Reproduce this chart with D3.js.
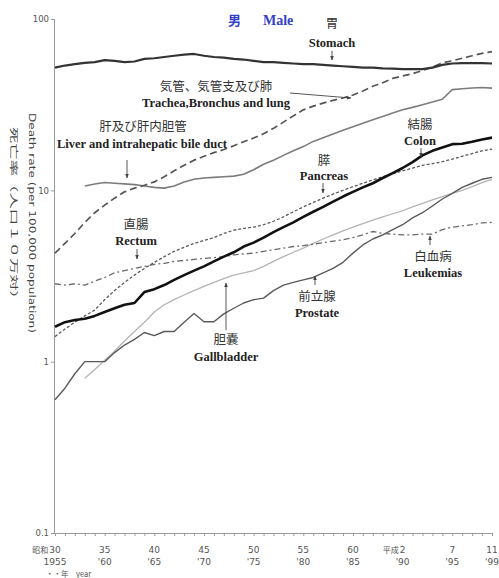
<!DOCTYPE html>
<html>
<head>
<meta charset="utf-8">
<script src="https://cdn.jsdelivr.net/npm/d3@7"></script>
<style>
  body { margin: 0; background: #fff; }
  svg { display: block; }
</style>
</head>
<body>
<svg id="chart" width="499" height="578"></svg>
<script>
// Age-adjusted cancer death rates, males, per 100,000 population (log scale)
const years = [1955,1956,1957,1958,1959,1960,1961,1962,1963,1964,
               1965,1966,1967,1968,1969,1970,1971,1972,1973,1974,
               1975,1976,1977,1978,1979,1980,1981,1982,1983,1984,
               1985,1986,1987,1988,1989,1990,1991,1992,1993,1994,
               1995,1996,1997,1998,1999];

const stomach = [52,53.5,54.5,55.5,56,57.5,57,56,56.5,58.5,
                 59,60,61,62,62.5,61,60,59.5,58.5,58,
                 57,56,56,55.5,55,54.6,54.5,54,53.5,53,
                 52.5,52,52,51.5,51.3,51,51,51,52,54,
                 55,55.3,55.3,55.3,55];

const lung = [4.3,4.9,5.6,6.5,7.4,8.2,9.0,9.8,10.3,10.7,
              11.2,12.0,13.0,14.0,15.0,15.8,16.6,17.3,18.2,19.2,
              20.2,21.4,23.0,25.0,27.2,29.5,31.0,32.3,33.5,34.6,
              36.0,38.0,40.5,42.5,45.0,46.5,48.0,50.0,52.5,55.5,
              57.0,59.0,61.0,63.0,64.5];

const liver = [null,null,null,10.6,10.9,11.1,11.0,10.9,10.8,10.6,
               10.4,10.3,10.6,11.2,11.6,11.8,11.9,12.0,12.1,12.4,
               13.2,14.2,15.0,16.0,17.0,18.0,19.3,20.3,21.3,22.4,
               23.5,24.6,25.8,27.0,28.3,29.5,30.5,31.6,32.8,34.0,
               38.7,39.2,39.6,39.8,39.5];

const colon = [1.6,1.7,1.75,1.78,1.85,1.95,2.05,2.15,2.2,2.55,
               2.65,2.8,3.0,3.2,3.4,3.6,3.85,4.1,4.35,4.7,
               4.95,5.3,5.7,6.1,6.5,7.0,7.5,8.0,8.6,9.2,
               9.8,10.4,11.0,11.8,12.6,13.5,14.6,16.0,17.0,17.8,
               18.6,18.7,19.2,19.8,20.3];

const pancreas = [1.4,1.55,1.7,1.85,2.0,2.3,2.6,2.9,3.2,3.5,
                  3.8,4.1,4.4,4.65,4.9,5.1,5.3,5.6,5.85,6.0,
                  6.1,6.3,6.6,7.0,7.5,8.0,8.5,9.0,9.5,10.0,
                  10.5,11.0,11.5,12.0,12.5,13.0,13.5,14.0,14.3,14.7,
                  15.2,15.8,16.4,17.0,17.4];

const leukemia = [2.85,2.8,2.85,2.8,2.95,3.1,3.3,3.4,3.5,3.6,
                  3.7,3.75,3.85,3.9,3.95,4.0,4.05,4.1,4.2,4.25,
                  4.3,4.4,4.5,4.6,4.7,4.75,4.85,4.95,5.05,5.15,
                  5.3,5.5,5.75,5.6,5.55,5.5,5.5,5.55,5.55,5.9,
                  6.1,6.2,6.3,6.45,6.5];

const gallbladder = [null,null,null,0.8,0.9,1.02,1.15,1.32,1.5,1.7,
                     1.95,2.15,2.3,2.45,2.6,2.75,2.9,3.05,3.2,3.3,
                     3.4,3.6,3.85,4.1,4.35,4.6,4.9,5.2,5.5,5.8,
                     6.1,6.4,6.7,7.0,7.3,7.6,8.0,8.4,8.8,9.2,
                     9.6,10.0,10.5,11.1,11.6];

const prostate = [0.6,0.7,0.85,1.0,1.0,1.0,1.13,1.25,1.35,1.48,
                  1.42,1.5,1.5,1.7,1.91,1.71,1.71,1.9,2.05,2.2,
                  2.3,2.35,2.6,2.8,2.9,3.0,3.1,3.3,3.5,3.8,
                  4.3,4.8,5.2,5.5,5.9,6.3,6.9,7.4,8.1,8.9,
                  9.6,10.4,11.0,11.6,11.9];

// Axis labels
const yTicks = [100, 10, 1, 0.1];
const yTickLabels = ["100", "10", "1", "0.1"];
const xLabelYears = [1955,1960,1965,1970,1975,1980,1985,1990,1995,1999];
const eraPrefix = ["昭和","","","","","","","平成","",""];
const eraNumbers = ["30","35","40","45","50","55","60","2","7","11"];
const westernLabels = ["1955","'60","'65","'70","'75","'80","'85","'90","'95","'99"];

const svg = d3.select("#chart");

const x = d3.scaleLinear().domain([1955, 1999]).range([55, 492]);
const y = d3.scaleLog().domain([0.1, 100]).range([533, 19]);

const axisColor = "#9a9a9a";
const tickTextColor = "#555";
const sansFont = "'DejaVu Sans', 'Noto Sans', sans-serif";
const serifFont = "'Liberation Serif', 'Times New Roman', serif";
const cjkFont = "'Noto Sans CJK JP', sans-serif";

// y axis
const yAxis = d3.axisLeft(y).tickValues(yTicks)
  .tickFormat((d, i) => yTickLabels[i]).tickSize(3).tickPadding(2);
const gy = svg.append("g").attr("transform", "translate(54,0)").call(yAxis);
gy.select(".domain").attr("stroke", axisColor);
gy.selectAll(".tick line").attr("stroke", axisColor);
gy.selectAll(".tick text").attr("fill", tickTextColor)
  .style("font-family", sansFont).style("font-size", "8.5px");

// x axis: one tick per year
const xAxis = d3.axisBottom(x).tickValues(years).tickFormat("").tickSize(3);
const gx = svg.append("g").attr("transform", "translate(0,533)").call(xAxis);
gx.select(".domain").attr("stroke", axisColor).attr("d", "M54,0.5H493");
gx.selectAll(".tick line").attr("stroke", axisColor);

// x labels: era year on first row, western year below
const xl = svg.append("g").style("font-family", sansFont)
  .style("font-size", "9px").attr("fill", tickTextColor);
xLabelYears.forEach((yr, i) => {
  xl.append("text").attr("x", x(yr)).attr("y", 553)
    .attr("text-anchor", "middle").text(eraNumbers[i]);
  if (eraPrefix[i]) {
    const w = eraNumbers[i].length * 5.7 / 2;
    xl.append("text").attr("x", x(yr) - w - 1).attr("y", 553)
      .attr("text-anchor", "end").style("font-family", cjkFont)
      .style("font-size", "8px").text(eraPrefix[i]);
  }
  xl.append("text").attr("x", x(yr)).attr("y", 565)
    .attr("text-anchor", "middle").text(westernLabels[i]);
});
svg.append("text").attr("x", 46).attr("y", 577)
  .style("font-family", cjkFont).style("font-size", "7.5px")
  .attr("fill", tickTextColor).text("・・年　year");

// y axis titles (rotated, reading downward)
svg.append("text")
  .attr("transform", "translate(29,113) rotate(90)")
  .attr("textLength", 220).attr("lengthAdjust", "spacingAndGlyphs")
  .style("font-family", sansFont).style("font-size", "8.5px")
  .attr("fill", "#444").text("Death rate (per 100,000 population)");
svg.append("text")
  .attr("transform", "translate(11,127) rotate(90)")
  .attr("textLength", 180).attr("lengthAdjust", "spacingAndGlyphs")
  .style("font-family", cjkFont).style("font-size", "8.5px")
  .attr("fill", "#444").text("死亡率（人口１０万対）");

// series lines
const series = [
  { name: "gallbladder", values: gallbladder, color: "#b4b4b4", width: 1.3, dash: null },
  { name: "prostate",    values: prostate,    color: "#5a5a5a", width: 1.4, dash: null },
  { name: "leukemia",    values: leukemia,    color: "#6a6a6a", width: 1.3, dash: "6,3,2,3" },
  { name: "pancreas",    values: pancreas,    color: "#5a5a5a", width: 1.3, dash: "3,2" },
  { name: "liver",       values: liver,       color: "#7c7c7c", width: 1.6, dash: null },
  { name: "lung",        values: lung,        color: "#555",    width: 1.7, dash: "7,4" },
  { name: "colon",       values: colon,       color: "#111",    width: 2.6, dash: null },
  { name: "stomach",     values: stomach,     color: "#333",    width: 2.2, dash: null }
];

const line = d3.line()
  .defined(d => d.v != null)
  .x(d => x(d.year))
  .y(d => y(d.v));

svg.append("g").selectAll("path").data(series).join("path")
  .attr("d", s => line(years.map((yr, i) => ({ year: yr, v: s.values[i] }))))
  .attr("fill", "none")
  .attr("stroke", d => d.color)
  .attr("stroke-width", d => d.width)
  .attr("stroke-dasharray", d => d.dash)
  .attr("stroke-linejoin", "round");

// arrowhead
svg.append("defs").append("marker")
  .attr("id", "ah").attr("viewBox", "0 0 10 10")
  .attr("refX", 9).attr("refY", 5)
  .attr("markerWidth", 5).attr("markerHeight", 5)
  .attr("orient", "auto-start-reverse")
  .append("path").attr("d", "M0,1 L10,5 L0,9 Z").attr("fill", "#444");

// title
const title = svg.append("g").attr("fill", "#3340c8");
title.append("text").attr("x", 228).attr("y", 25)
  .style("font-family", cjkFont).style("font-weight", "bold")
  .style("font-size", "13px").text("男");
title.append("text").attr("x", 263).attr("y", 25)
  .style("font-family", serifFont).style("font-weight", "bold")
  .style("font-size", "14px").text("Male");

// labels: Japanese name above, English name below
const labels = [
  { jp: "胃", en: "Stomach", cx: 332, jy: 28, ey: 47 },
  { jp: "気管、気管支及び肺", en: "Trachea,Bronchus and lung", cx: 216, jy: 91, ey: 107 },
  { jp: "肝及び肝内胆管", en: "Liver and intrahepatic bile duct", cx: 143, jy: 131, ey: 148, enX: 57 },
  { jp: "結腸", en: "Colon", cx: 420, jy: 129, ey: 145 },
  { jp: "膵", en: "Pancreas", cx: 324, jy: 165, ey: 180 },
  { jp: "直腸", en: "Rectum", cx: 136, jy: 229, ey: 245 },
  { jp: "白血病", en: "Leukemias", cx: 433, jy: 261, ey: 277 },
  { jp: "前立腺", en: "Prostate", cx: 317, jy: 301, ey: 317 },
  { jp: "胆嚢", en: "Gallbladder", cx: 226, jy: 344, ey: 361 }
];
const lg = svg.append("g");
labels.forEach(l => {
  lg.append("text").attr("x", l.cx).attr("y", l.jy).attr("text-anchor", "middle")
    .style("font-family", cjkFont).style("font-size", "12.5px")
    .attr("fill", "#333").text(l.jp);
  const t = lg.append("text").attr("y", l.ey)
    .style("font-family", serifFont).style("font-weight", "bold")
    .style("font-size", "12.5px").attr("fill", "#222").text(l.en);
  if (l.enX != null) t.attr("x", l.enX);
  else t.attr("x", l.cx).attr("text-anchor", "middle");
});

// arrows pointing from labels to their lines
const arrows = [
  { x1: 332, y1: 51, x2: 332, y2: 60 },
  { x1: 290, y1: 93, x2: 351, y2: 98 },
  { x1: 127, y1: 160, x2: 127, y2: 178 },
  { x1: 421, y1: 148, x2: 421, y2: 157 },
  { x1: 323, y1: 183, x2: 323, y2: 193 },
  { x1: 137, y1: 249, x2: 137, y2: 259 },
  { x1: 430, y1: 245, x2: 430, y2: 236 },
  { x1: 315, y1: 285, x2: 315, y2: 276 },
  { x1: 226, y1: 330, x2: 226, y2: 283 }
];
svg.append("g").selectAll("line").data(arrows).join("line")
  .attr("x1", d => d.x1).attr("y1", d => d.y1)
  .attr("x2", d => d.x2).attr("y2", d => d.y2)
  .attr("stroke", "#444").attr("stroke-width", 0.9)
  .attr("marker-end", "url(#ah)");
</script>
</body>
</html>
